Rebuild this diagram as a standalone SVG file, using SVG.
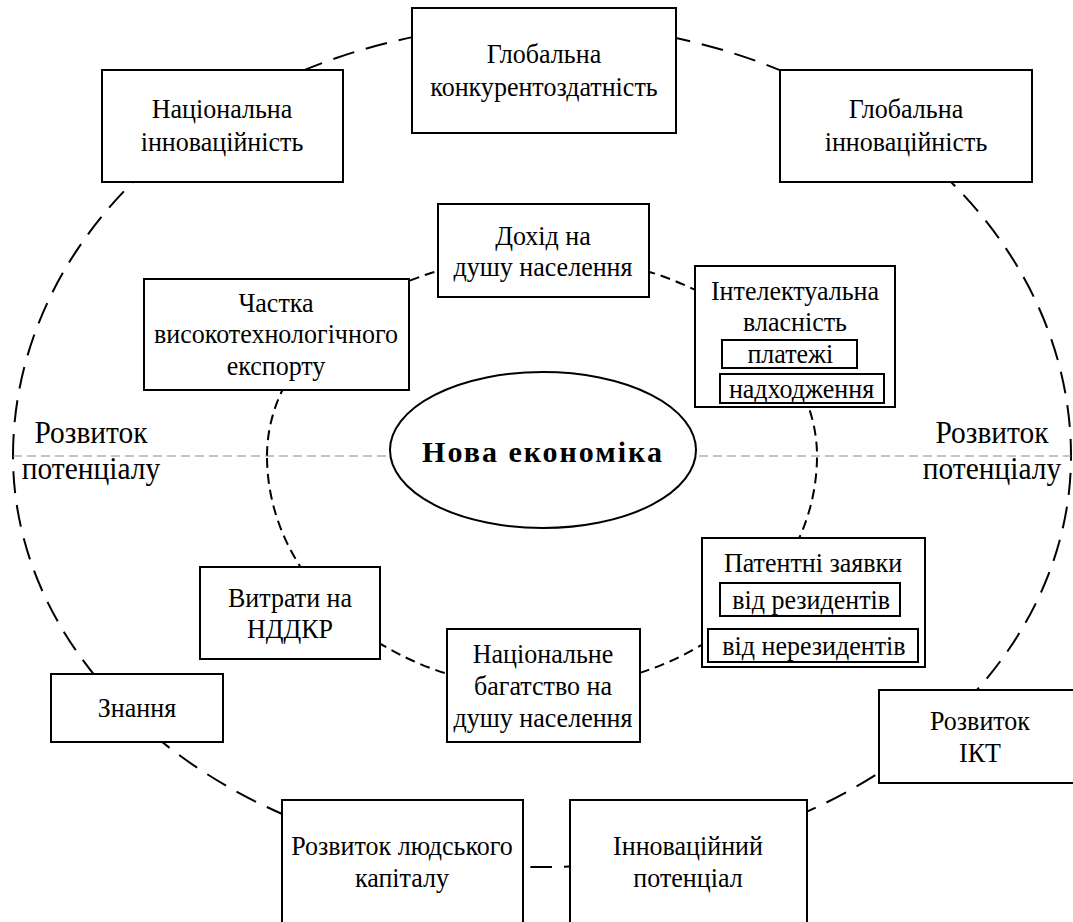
<svg xmlns="http://www.w3.org/2000/svg" width="1073" height="922" viewBox="0 0 1073 922">
<style>
.box{fill:#fff;stroke:#000;stroke-width:2}
.t{font-size:28px;text-anchor:middle;fill:#000}
.lbl{font-size:31px;text-anchor:middle;fill:#000}
.outer{fill:none;stroke:#000;stroke-width:2;stroke-dasharray:22 12}
.inner{fill:none;stroke:#000;stroke-width:2;stroke-dasharray:10 6}
.axis{fill:none;stroke:#888;stroke-width:1.2;stroke-dasharray:9 5}
</style>
<rect width="1073" height="922" fill="#fff"/>
<g id="connectors">
<path class="outer" d="M 13 456 A 529 432 0 0 1 1071 456 A 529 411 0 0 1 13 456"/>
<path class="inner" d="M 267 456 A 275 200 0 0 1 817 456 A 275 232 0 0 1 267 456"/>
<path class="axis" d="M 13 456 H 1071"/>
</g>
<g id="labels" font-family="Liberation Serif, serif">
<g transform="translate(91 0) scale(0.95 1) translate(-91 0)">
<text class="lbl" x="91" y="443">Розвиток</text>
<text class="lbl" x="91" y="479">потенціалу</text>
</g>
<g transform="translate(992 0) scale(0.95 1) translate(-992 0)">
<text class="lbl" x="992" y="443">Розвиток</text>
<text class="lbl" x="992" y="479">потенціалу</text>
</g>
</g>
<g id="n-center">
<ellipse cx="543" cy="450" rx="153" ry="78" fill="#fff" stroke="#000" stroke-width="2"/>
<text x="543" y="462" font-family="Liberation Serif, serif" font-size="30" font-weight="bold" letter-spacing="2" text-anchor="middle">Нова економіка</text>
</g>
<g id="nodes" font-family="Liberation Serif, serif">
<g id="n-global-comp">
<rect class="box" x="412" y="8" width="264" height="125"/>
<g transform="translate(544 0) scale(0.93 1) translate(-544 0)">
<text class="t" x="544" y="63">Глобальна</text>
<text class="t" x="544" y="96">конкурентоздатність</text>
</g>
</g>
<g id="n-nat-innov">
<rect class="box" x="102" y="70" width="241" height="112"/>
<g transform="translate(222 0) scale(0.93 1) translate(-222 0)">
<text class="t" x="222" y="118">Національна</text>
<text class="t" x="222" y="151">інноваційність</text>
</g>
</g>
<g id="n-global-innov">
<rect class="box" x="780" y="70" width="252" height="112"/>
<g transform="translate(906 0) scale(0.93 1) translate(-906 0)">
<text class="t" x="906" y="118">Глобальна</text>
<text class="t" x="906" y="151">інноваційність</text>
</g>
</g>
<g id="n-income">
<rect class="box" x="438" y="204" width="211" height="93"/>
<g transform="translate(543 0) scale(0.93 1) translate(-543 0)">
<text class="t" x="543" y="245">Дохід на</text>
<text class="t" x="543" y="276">душу населення</text>
</g>
</g>
<g id="n-hitech">
<rect class="box" x="144" y="279" width="265" height="111"/>
<g transform="translate(276 0) scale(0.93 1) translate(-276 0)">
<text class="t" x="276" y="312">Частка</text>
<text class="t" x="276" y="343">високотехнологічного</text>
<text class="t" x="276" y="375">експорту</text>
</g>
</g>
<g id="n-ip">
<rect class="box" x="695" y="266" width="200" height="141"/>
<rect class="box" x="722" y="340" width="135" height="28"/>
<rect class="box" x="720" y="374" width="164" height="29"/>
<g transform="translate(795 0) scale(0.93 1) translate(-795 0)">
<text class="t" x="795" y="300">Інтелектуальна</text>
<text class="t" x="795" y="331">власність</text>
<text class="t" x="790" y="363">платежі</text>
<text class="t" x="802" y="398">надходження</text>
</g>
</g>
<g id="n-patent">
<rect class="box" x="702" y="538" width="223" height="129"/>
<rect class="box" x="720" y="583" width="180" height="33"/>
<rect class="box" x="708" y="629" width="210" height="33"/>
<g transform="translate(813 0) scale(0.93 1) translate(-813 0)">
<text class="t" x="813" y="572">Патентні заявки</text>
<text class="t" x="811" y="609">від резидентів</text>
<text class="t" x="814" y="655">від нерезидентів</text>
</g>
</g>
<g id="n-rnd">
<rect class="box" x="200" y="567" width="180" height="92"/>
<g transform="translate(290 0) scale(0.93 1) translate(-290 0)">
<text class="t" x="290" y="607">Витрати на</text>
<text class="t" x="290" y="638">НДДКР</text>
</g>
</g>
<g id="n-wealth">
<rect class="box" x="447" y="629" width="193" height="113"/>
<g transform="translate(543 0) scale(0.93 1) translate(-543 0)">
<text class="t" x="543" y="663">Національне</text>
<text class="t" x="543" y="695">багатство на</text>
<text class="t" x="543" y="727">душу населення</text>
</g>
</g>
<g id="n-knowledge">
<rect class="box" x="51" y="674" width="172" height="68"/>
<g transform="translate(137 0) scale(0.93 1) translate(-137 0)">
<text class="t" x="137" y="717">Знання</text>
</g>
</g>
<g id="n-ict">
<rect class="box" x="879" y="690" width="202" height="93"/>
<g transform="translate(980 0) scale(0.93 1) translate(-980 0)">
<text class="t" x="980" y="730">Розвиток</text>
<text class="t" x="980" y="762">ІКТ</text>
</g>
</g>
<g id="n-human">
<rect class="box" x="282" y="800" width="241" height="130"/>
<g transform="translate(402 0) scale(0.93 1) translate(-402 0)">
<text class="t" x="402" y="855">Розвиток людського</text>
<text class="t" x="402" y="887">капіталу</text>
</g>
</g>
<g id="n-innov-pot">
<rect class="box" x="570" y="800" width="237" height="130"/>
<g transform="translate(688 0) scale(0.93 1) translate(-688 0)">
<text class="t" x="688" y="855">Інноваційний</text>
<text class="t" x="688" y="887">потенціал</text>
</g>
</g>
</g>
</svg>
